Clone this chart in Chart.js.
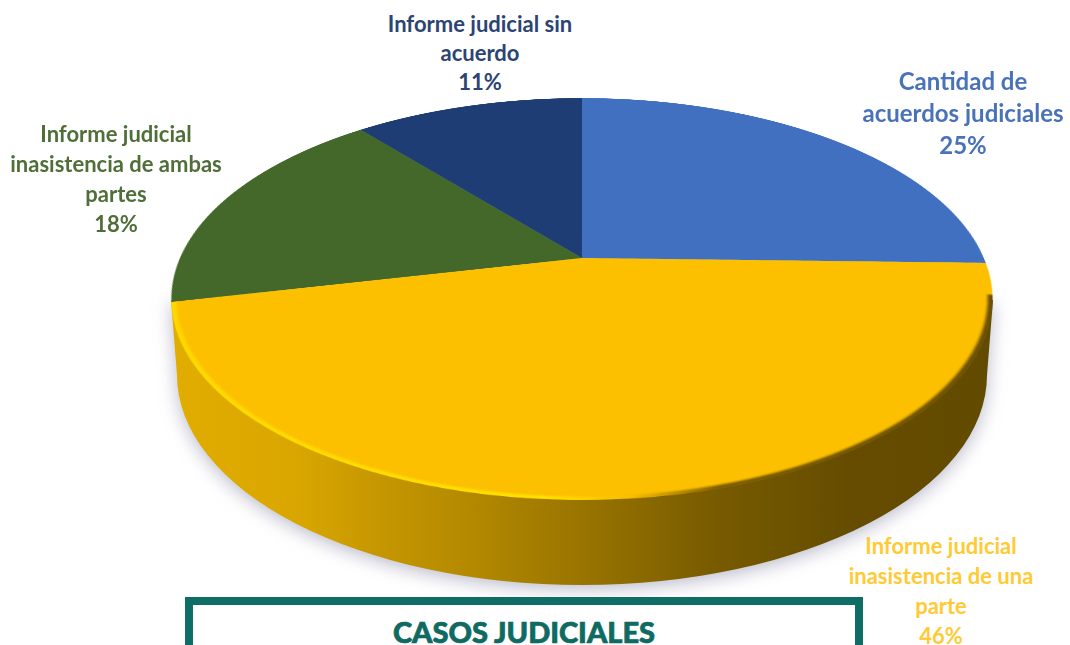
<!DOCTYPE html>
<html lang="es">
<head>
<meta charset="UTF-8">
<title>Casos judiciales</title>
<script src="https://cdnjs.cloudflare.com/ajax/libs/Chart.js/4.4.1/chart.umd.min.js"></script>
<style>
    html, body { margin: 0; background: #fff; }
    #page { position: relative; width: 1070px; height: 645px; overflow: hidden; background: #fff; font-family: Lato, sans-serif; }
    #wallShadow { position: absolute; left: 0; top: 0; width: 1070px; height: 645px; filter: drop-shadow(0 4px 9px rgba(130,130,160,.55)); }
    #wall {
        width: 1070px; height: 645px;
        background: linear-gradient(90deg, #e2ad00 171px, #d9a600 300px, #c79800 370px, #b48900 470px, #8f6d00 620px, #775a00 720px, #654c00 850px, #624a00 993px);
        clip-path: path('M171 300 L177 375 A405 210 0 0 0 987 375 L993 300 Z');
    }
    #pie { position: absolute; left: 0; top: 0; width: 800px; height: 800px; transform-origin: 0 0; }
    .lbl { position: absolute; transform: translateX(-50%); text-align: center; font-weight: 700; white-space: nowrap; }
    #box { position: absolute; left: 185px; top: 597px; width: 662px; height: 120px; border: 8px solid #0e6e66; }
    #title { position: absolute; left: 524px; top: 615px; transform: translateX(-50%); font-size: 29px; line-height: 34px; font-weight: 900; color: #0f6a62; white-space: nowrap; -webkit-text-stroke: .7px #0f6a62; }
</style>
</head>
<body>
<div id="page">
    <div id="wallShadow"><div id="wall"></div></div>
    <canvas id="pie" width="800" height="800"></canvas>
    <div id="box"></div>
    <div id="title">CASOS JUDICIALES</div>
</div>
<script>
const categories = ['Cantidad de acuerdos judiciales', 'Informe judicial inasistencia de una parte', 'Informe judicial inasistencia de ambas partes', 'Informe judicial sin acuerdo'];
const values = [25.4, 46.1, 17.5, 11.0];
const sliceColors = ['#4270c0', '#fdc000', '#43682a', '#1f3d75'];
const labelLines = [
    ['Cantidad de', 'acuerdos judiciales'],
    ['Informe judicial', 'inasistencia de una', 'parte'],
    ['Informe judicial', 'inasistencia de ambas', 'partes'],
    ['Informe judicial sin', 'acuerdo']
];
const labelColors = ['#4a72b8', '#ffca33', '#4f6e38', '#2b4474'];

// where each label sits on the page
const labelLayout = [
    { x: 963, y: 65, size: 24, lh: 32 },
    { x: 941, y: 531, size: 22, lh: 30 },
    { x: 116, y: 119, size: 22, lh: 30 },
    { x: 480, y: 9, size: 22, lh: 29 }
];

// perspective of the disc: apex at (582,258), near edge 500, far edge 98
const cx = 582, cy = 258, c = 402, a = 192.6, k = 0.204, R = 400;
document.getElementById('pie').style.transform = 'matrix3d(' + [
    c / R, 0, 0, 0,
    -cx * k / R, (a - cy * k) / R, 0, -k / R,
    0, 0, 1, 0,
    cx * (1 + k) - c, cy * (1 + k) - a, 0, 1 + k
].join(',') + ')';

// bright bevel on the near rim of the yellow slice, going dark towards the right
const rimPlugin = {
    id: 'rim',
    afterDatasetsDraw(chart) {
        const arc = chart.getDatasetMeta(0).data[1];
        const r = arc.outerRadius;
        const g = chart.ctx.createLinearGradient(arc.x - r, 0, arc.x + r, 0);
        g.addColorStop(0, '#ffd800');
        g.addColorStop(0.46, '#ffe000');
        g.addColorStop(0.55, '#f8bc00');
        g.addColorStop(0.64, '#7a5c00');
        g.addColorStop(1, '#6a4f00');
        const ctx = chart.ctx;
        ctx.save();
        ctx.beginPath();
        ctx.arc(arc.x, arc.y, r, arc.startAngle, arc.endAngle);
        ctx.arc(arc.x, arc.y, r - 30, arc.endAngle, arc.startAngle, true);
        ctx.closePath();
        ctx.clip();
        ctx.filter = 'blur(2.5px)';
        ctx.beginPath();
        ctx.arc(arc.x, arc.y, r - 1, arc.startAngle + 0.16, arc.endAngle + 0.02);
        ctx.strokeStyle = g;
        ctx.lineWidth = 7;
        ctx.stroke();
        ctx.restore();
    }
};

new Chart(document.getElementById('pie'), {
    type: 'pie',
    data: {
        labels: categories,
        datasets: [{ data: values, backgroundColor: sliceColors, borderWidth: 0 }]
    },
    options: {
        responsive: false,
        animation: false,
        devicePixelRatio: 2,
        layout: { padding: 0 },
        plugins: { legend: { display: false }, tooltip: { enabled: false } }
    },
    plugins: [rimPlugin]
});

const page = document.getElementById('page');
categories.forEach((name, i) => {
    const el = document.createElement('div');
    const pos = labelLayout[i];
    el.className = 'lbl';
    el.style.cssText = `left:${pos.x}px;top:${pos.y}px;font-size:${pos.size}px;line-height:${pos.lh}px;color:${labelColors[i]}`;
    el.innerHTML = labelLines[i].concat(Math.round(values[i]) + '%').join('<br>');
    page.appendChild(el);
});
</script>
</body>
</html>
